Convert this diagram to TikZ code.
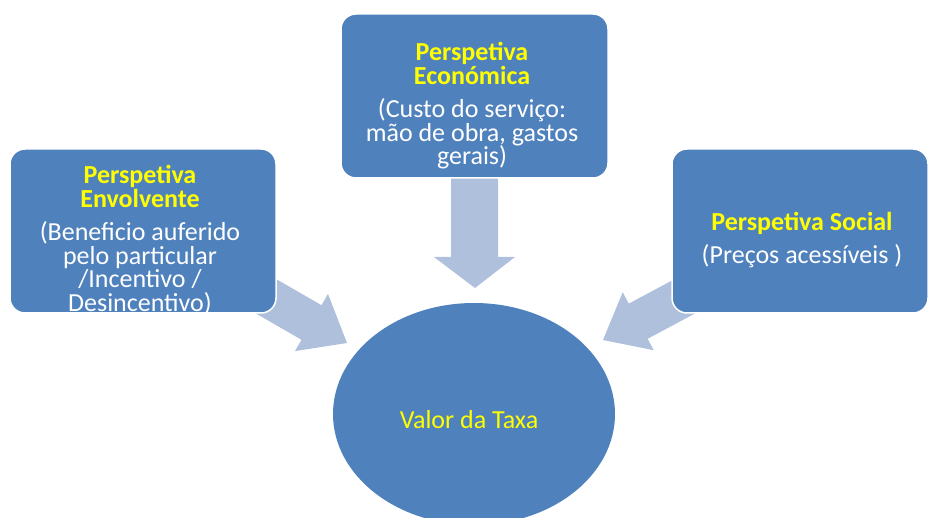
\documentclass[tikz,border=0pt]{standalone}
\usepackage{fontspec}
\setmainfont{Carlito}
\usetikzlibrary{shapes.geometric}
\definecolor{boxblue}{RGB}{79,129,189}
\definecolor{arrowblue}{RGB}{175,192,221}
\definecolor{ylw}{RGB}{255,255,0}
\newcommand\ttl[1]{\textcolor{ylw}{\bfseries #1}}
\begin{document}
\setlength{\lineskiplimit}{-100pt}%
\begin{tikzpicture}[x=1pt,y=-1pt,
  box/.style={draw=white, line width=1.5pt, fill=boxblue, rounded corners=15pt},
  blockarrow/.style={fill=arrowblue, draw=none},
  txt/.style={text=white, align=center, inner sep=0pt,
    font=\fontsize{26}{23.5}\selectfont}]
\useasboundingbox (0,0) rectangle (929,518);
% block arrows (behind the boxes)
\coordinate (la1) at (261.7,270.7);
\coordinate (la2) at (321.5,305.2);
\coordinate (la3) at (328,293.9);
\coordinate (latip) at (347,343);
\coordinate (la5) at (295,351.1);
\coordinate (la6) at (301.5,339.8);
\coordinate (la7) at (241.7,305.3);
\fill[blockarrow] (la1) -- (la2) -- (la3) -- (latip) -- (la5) -- (la6) -- (la7) -- cycle;
\coordinate (ra1) at (690.4,270.7);
\coordinate (ra2) at (628.8,303.6);
\coordinate (ra3) at (622.7,292.2);
\coordinate (ratip) at (603,340);
\coordinate (ra5) at (653.7,350.2);
\coordinate (ra6) at (647.6,338.8);
\coordinate (ra7) at (709.2,305.9);
\fill[blockarrow] (ra1) -- (ra2) -- (ra3) -- (ratip) -- (ra5) -- (ra6) -- (ra7) -- cycle;
\coordinate (da1) at (451,170);
\coordinate (da2) at (451,257);
\coordinate (da3) at (434,257);
\coordinate (datip) at (475,288);
\coordinate (da5) at (515,257);
\coordinate (da6) at (498,257);
\coordinate (da7) at (498,170);
\fill[blockarrow] (da1) -- (da2) -- (da3) -- (datip) -- (da5) -- (da6) -- (da7) -- cycle;
% boxes
\node[box, minimum width=266pt, minimum height=164pt] (envbox) at (143,231) {};
\node[box, minimum width=267pt, minimum height=164pt] (ecobox) at (474.5,96) {};
\node[box, minimum width=256pt, minimum height=164pt] (socbox) at (800,231) {};
\node[ellipse, fill=boxblue, draw=none, minimum width=282pt, minimum height=222pt] (valor) at (474,414) {};
% texts
\node[txt] (envtxt) at (140,240) {\ttl{Perspetiva}\\\ttl{Envolvente}\\[10pt](Beneficio auferido\\pelo particular\\/Incentivo /\\Desincentivo)};
\node[txt] (ecotxt) at (472,106) {\ttl{Perspetiva}\\\ttl{Económica}\\[10pt](Custo do serviço:\\mão de obra, gastos \\gerais)};
\node[txt] (soctxt) at (802,240) {\ttl{Perspetiva Social}\\[10pt](Preços acessíveis )};
\node[txt, text=ylw] (valtxt) at (469,420) {Valor da Taxa};
\end{tikzpicture}
\end{document}
